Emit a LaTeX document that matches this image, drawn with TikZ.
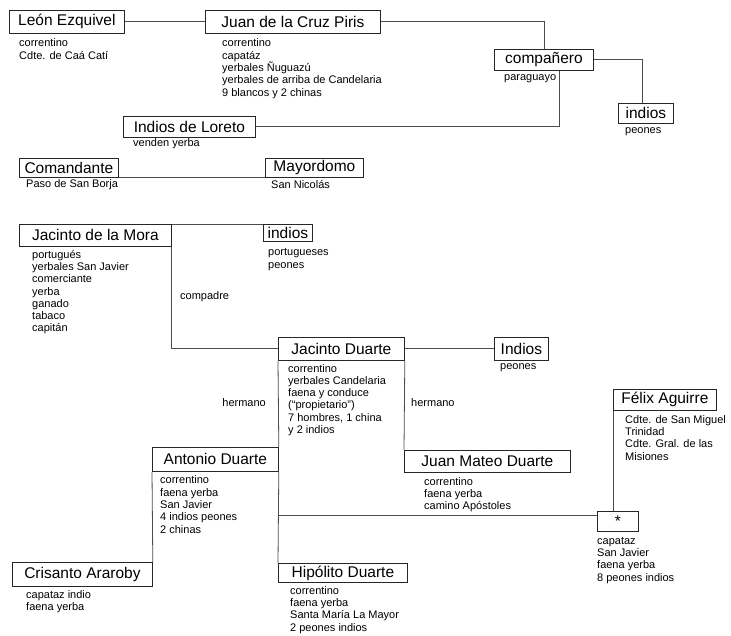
\documentclass[tikz,border=0pt]{standalone}
\usepackage{fontspec}
\setmainfont{Liberation Sans}
\begin{document}
\begin{tikzpicture}[x=1pt, y=-1pt,
        caja/.style={draw=black!85, line width=0.8pt, inner sep=0pt, anchor=north west,
                     minimum height=23pt, font=\fontsize{15.5}{17}\selectfont},
        datos/.style={inner sep=0pt, anchor=base west, align=left,
                      font=\fontsize{11}{12.3}\selectfont},
        enlace/.style={draw=black!70, line width=0.8pt}]
        \useasboundingbox (0,0) rectangle (731,636);
        % personas
        \node(leon)      at (9,10)    [caja, minimum width=115pt] {León Ezquivel};
        \node(juan)      at (205,10)  [caja, minimum width=175pt] {Juan de la Cruz Piris};
        \node(companero) at (494,49)  [caja, minimum width=99pt, minimum height=21pt] {compañero};
        \node(indios1)   at (618,103) [caja, minimum width=55pt, minimum height=20pt] {indios};
        \node(loreto)    at (123,116) [caja, minimum width=132pt, minimum height=21pt] {Indios de Loreto};
        \node(coman)     at (19,158)  [caja, minimum width=99pt, minimum height=19pt] {Comandante};
        \node(mayor)     at (265,158) [caja, minimum width=98pt, minimum height=19pt] {Mayordomo};
        \node(mora)      at (19,224)  [caja, minimum width=152pt, minimum height=22pt] {Jacinto de la Mora};
        \node(indios2)   at (263,224) [caja, minimum width=49pt, minimum height=17pt] {indios};
        \node(jduarte)   at (278,337) [caja, minimum width=126pt] {Jacinto Duarte};
        \node(indios3)   at (494,337) [caja, minimum width=54pt] {Indios};
        \node(felix)     at (613,389) [caja, minimum width=103pt, minimum height=21pt] {Félix Aguirre};
        \node(jmateo)    at (404,450) [caja, minimum width=166pt, minimum height=22pt] {Juan Mateo Duarte};
        \node(antonio)   at (152,447) [caja, minimum width=126pt, minimum height=24pt] {Antonio Duarte};
        \node(estrella)  at (597,511) [caja, minimum width=41pt, minimum height=20pt] {*};
        \node(crisanto)  at (12,562)  [caja, minimum width=140pt, minimum height=24pt] {Crisanto Araroby};
        \node(hipolito)  at (278,563) [caja, minimum width=129pt, minimum height=19pt] {Hipólito Duarte};
        % datos (base = ultima linea)
        \node(dleon)     at (19,59.3)   [datos] {correntino\\Cdte. de Caá Catí};
        \node(djuan)     at (222,96.2)  [datos] {correntino\\capatáz\\yerbales Ñuguazú\\yerbales de arriba de Candelaria\\9 blancos y 2 chinas};
        \node(dcompanero) at (504,81)   [datos] {paraguayo};
        \node(dindios1)  at (625,134)   [datos] {peones};
        \node(dloreto)   at (133,147)   [datos] {venden yerba};
        \node(dcoman)    at (26,188)    [datos] {Paso de San Borja};
        \node(dmayor)    at (271,189)   [datos] {San Nicolás};
        \node(dmora)     at (32,332)    [datos] {portugués\\yerbales San Javier\\comerciante\\yerba\\ganado\\tabaco\\capitán};
        \node(dindios2)  at (268,268.3) [datos] {portugueses\\peones};
        \node(compadre)  at (180,300)   [datos] {compadre};
        \node(djduarte)  at (288,433.5) [datos] {correntino\\yerbales Candelaria\\faena y conduce\\(“propietario”)\\7 hombres, 1 china\\y 2 indios};
        \node(dindios3)  at (500,369)   [datos] {peones};
        \node(hermano1)  at (266,406)   [datos, anchor=base east] {hermano};
        \node(hermano2)  at (411,406)   [datos] {hermano};
        \node(dfelix)    at (625,460)   [datos] {Cdte. de San Miguel\\Trinidad\\Cdte. Gral. de las\\Misiones};
        \node(djmateo)   at (424,509.6) [datos] {correntino\\faena yerba\\camino Apóstoles};
        \node(dantonio)  at (160,533)   [datos] {correntino\\faena yerba\\San Javier\\4 indios peones\\2 chinas};
        \node(destrella) at (597,581)   [datos] {capataz\\San Javier\\faena yerba\\8 peones indios};
        \node(dcrisanto) at (26,610.5)  [datos] {capataz indio\\faena yerba};
        \node(dhipolito) at (290,631)   [datos] {correntino\\faena yerba\\Santa María La Mayor\\2 peones indios};
        % lazos
        \coordinate(ramal) at (278,515);
        \draw[enlace] (leon) -- (juan);
        \draw[enlace] (juan.east) -| (companero.north);
        \draw[enlace] ([xshift=-34pt]companero.south east) |- (loreto.east);
        \draw[enlace] (companero.east) -| ([xshift=-4pt]indios1.north);
        \draw[enlace] (coman.south east) -- (mayor.south west);
        \draw[enlace] (mora.north east) -- (indios2.north west);
        \draw[enlace] (mora.south east) |- (jduarte.west);
        \draw[enlace] (jduarte) -- (indios3);
        \draw[enlace] (jduarte.south east) -- (jmateo.north west);
        \draw[enlace] (jduarte.south west) -- (antonio.north east);
        \draw[enlace] (antonio.south east) -- (hipolito.north west);
        \draw[enlace] (antonio.south west) -- (crisanto.north east);
        \draw[enlace] (ramal) -- (ramal -| estrella.west);
        \draw[enlace] (felix.south west) -- (felix.south west |- estrella.north);
    \end{tikzpicture}
\end{document}
